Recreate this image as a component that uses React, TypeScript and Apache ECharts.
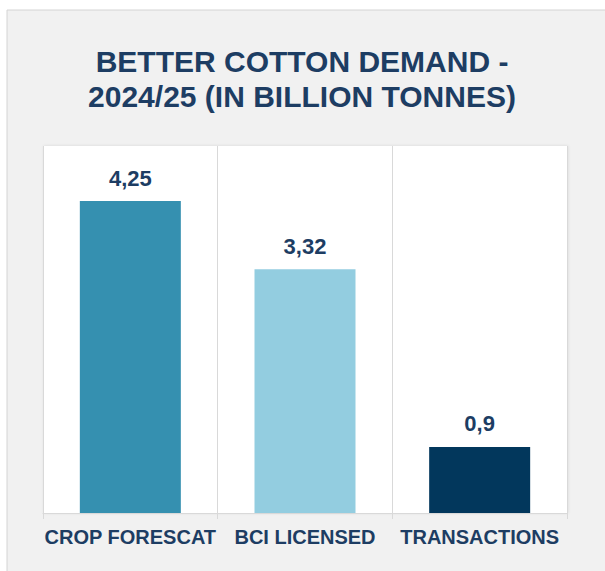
import React, { useEffect, useRef } from "react";
import * as echarts from "echarts";

const categories = ["CROP FORESCAT", "BCI LICENSED", "TRANSACTIONS"];
const values = [4.25, 3.32, 0.9];
const valueLabels = ["4,25", "3,32", "0,9"];
const barColors = ["#3590b0", "#93cde0", "#02375c"];

const FONT = "'Liberation Sans', Arial, sans-serif";
const NAVY = "#1d3d63";

export default function App() {
  const ref = useRef<HTMLDivElement>(null);
  useEffect(() => {
    if (!ref.current) return;
    const chart = echarts.init(ref.current, null, { renderer: "svg" });
    chart.setOption({
      animation: false,
      backgroundColor: "#ffffff",
      graphic: [
        {
          type: "rect",
          z: -10,
          silent: true,
          shape: { x: 7, y: 10, width: 620, height: 580 },
          style: { fill: "#f1f1f1", stroke: "#d4d4d4", lineWidth: 1 },
        },
      ],
      title: {
        text: "BETTER COTTON DEMAND -\n2024/25 (IN BILLION TONNES)",
        left: 297,
        top: 39,
        textAlign: "center",
        textStyle: {
          fontFamily: FONT,
          fontSize: 30,
          fontWeight: "bold",
          lineHeight: 35,
          color: NAVY,
        },
      },
      grid: {
        left: 43,
        right: 38,
        top: 146,
        bottom: 58,
        show: true,
        backgroundColor: "#ffffff",
        borderWidth: 0,
        shadowColor: "rgba(0,0,0,0.12)",
        shadowBlur: 3,
        shadowOffsetX: 1,
      },
      xAxis: {
        type: "category",
        data: categories,
        boundaryGap: true,
        axisLine: { show: true, lineStyle: { color: "#d9d9d9", width: 1 } },
        axisTick: { show: true, interval: 0, length: 6, lineStyle: { color: "#d9d9d9" } },
        splitLine: { show: true, interval: 0, lineStyle: { color: "#d9d9d9", width: 1 } },
        axisLabel: {
          interval: 0,
          margin: 14,
          fontFamily: FONT,
          fontSize: 20,
          fontWeight: "bold",
          color: NAVY,
        },
      },
      yAxis: {
        type: "value",
        min: 0,
        max: 5,
        show: false,
        splitLine: { show: false },
      },
      series: [
        {
          type: "bar",
          barWidth: 101,
          data: values.map((v, i) => ({
            value: v,
            itemStyle: { color: barColors[i] },
            label: { formatter: valueLabels[i] },
          })),
          label: {
            show: true,
            position: "top",
            distance: 12,
            fontFamily: FONT,
            fontSize: 22,
            fontWeight: "bold",
            color: NAVY,
          },
        },
      ],
    });
    return () => chart.dispose();
  }, []);
  return (
    <div
      ref={ref}
      style={{ position: "absolute", left: 0, top: 0, width: 605, height: 571 }}
    />
  );
}
